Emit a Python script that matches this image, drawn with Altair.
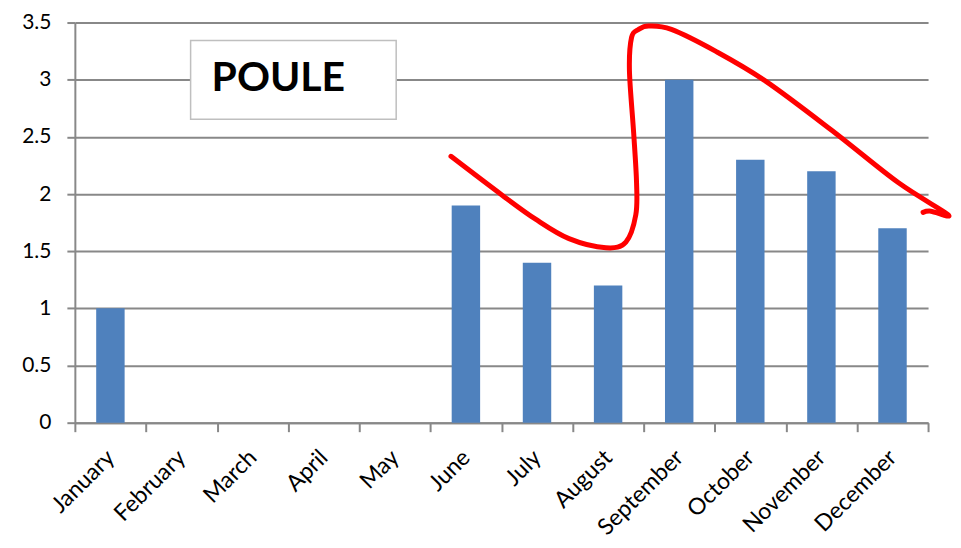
import altair as alt
import pandas as pd

months = ["January", "February", "March", "April", "May", "June",
          "July", "August", "September", "October", "November", "December"]
values = [1.0, 0, 0, 0, 0, 1.9, 1.4, 1.2, 3.0, 2.3, 2.2, 1.7]

# hand-drawn red annotation, in (month position, value) units
curve_x = [5.29, 6.01, 6.48, 6.95, 7.47, 7.75, 7.89, 7.90, 7.86, 7.80, 7.83, 7.93,
           8.07, 8.39, 9.01, 9.71, 10.64, 11.58, 12.28, 12.04, 11.93]
curve_y = [2.33, 1.99, 1.78, 1.61, 1.53, 1.58, 1.82, 2.10, 2.53, 3.08, 3.37, 3.44,
           3.47, 3.44, 3.25, 2.99, 2.56, 2.10, 1.82, 1.85, 1.84]

label_text = ["POULE"]

FONT = "Lato"
GRID = "#888888"

bars_df = pd.DataFrame({"month": months, "value": values})
curve_df = pd.DataFrame({"cx": curve_x, "cy": curve_y, "order": list(range(len(curve_x)))})
label_df = pd.DataFrame({"t": label_text})

y_scale = alt.Scale(domain=[0, 3.5])
y_axis = alt.Axis(values=[0, 0.5, 1, 1.5, 2, 2.5, 3, 3.5], format=".1~f",
                  labelFont=FONT, labelFontSize=21, labelColor="#000000",
                  domainColor=GRID, domainWidth=2, tickColor=GRID, tickWidth=2,
                  tickSize=8, labelPadding=16, grid=True, gridColor=GRID,
                  gridWidth=2)

bars = alt.Chart(bars_df).mark_bar(
    color="#4F81BD", width=alt.RelativeBandSize(0.4)
).encode(
    x=alt.X("month:N", sort=months, title=None,
            scale=alt.Scale(paddingInner=0, paddingOuter=0),
            axis=alt.Axis(labelAngle=-45, labelAlign="right", labelBaseline="middle",
                          tickBand="extent", labelFont=FONT,
                          labelFontSize=23, labelColor="#000000", domainColor=GRID,
                          domainWidth=2, tickColor=GRID, tickWidth=2, tickSize=9,
                          labelPadding=22, grid=False)),
    y=alt.Y("value:Q", scale=y_scale, title=None, axis=y_axis),
)

box = alt.Chart(label_df).mark_rect(
    fill="white", stroke="#BFBFBF", strokeWidth=1.5
).encode(
    x=alt.value(116), x2=alt.value(322), y=alt.value(18), y2=alt.value(97)
)

text = alt.Chart(label_df).mark_text(
    font=FONT, fontSize=41, fontWeight="bold", align="left", baseline="middle",
    color="#000000"
).encode(
    x=alt.value(137), y=alt.value(57), text="t:N"
)

curve = alt.Chart(curve_df).mark_line(
    color="#FF0000", strokeWidth=5, interpolate="cardinal", strokeCap="round",
    strokeJoin="round", clip=False
).encode(
    x=alt.X("cx:Q", scale=alt.Scale(domain=[0, 12]), axis=None),
    y=alt.Y("cy:Q", scale=y_scale, title=None, axis=y_axis),
    order="order:Q",
)

chart = alt.layer(bars, box, text, curve).resolve_scale(
    x="independent"
).properties(
    width=855, height=401,
    autosize=alt.AutoSizeParams(type="none"),
    padding={"left": 67, "top": 14, "right": 25, "bottom": 122},
).configure_view(stroke=None)

chart.save("out.html", embed_options={"renderer": "svg", "actions": False})
